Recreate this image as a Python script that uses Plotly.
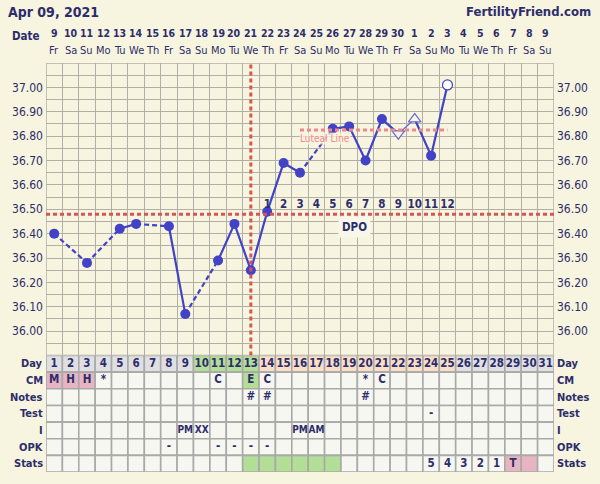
import plotly.graph_objects as go

# ---------------- data ----------------
days = list(range(1, 32))
date_labels = ['9', '10', '11', '12', '13', '14', '15', '16', '17', '18', '19', '20', '21', '22',
               '23', '24', '25', '26', '27', '28', '29', '30', '1', '2', '3', '4', '5', '6', '7', '8', '9']
weekday_labels = ['Fr', 'Sa', 'Su', 'Mo', 'Tu', 'We', 'Th', 'Fr', 'Sa', 'Su', 'Mo', 'Tu', 'We', 'Th',
                  'Fr', 'Sa', 'Su', 'Mo', 'Tu', 'We', 'Th', 'Fr', 'Sa', 'Su', 'Mo', 'Tu', 'We', 'Th',
                  'Fr', 'Sa', 'Su']
temp_days = list(range(1, 26))
temps = [36.40, None, 36.28, None, 36.42, 36.44, None, 36.43, 36.07, None, 36.29, 36.44, 36.25,
         36.49, 36.69, 36.65, None, 36.83, 36.84, 36.70, 36.87, 36.81, 36.87, 36.72, 37.01]
temp_kind = ['f', None, 'f', None, 'f', 'f', None, 'f', 'f', None, 'f', 'f', 'f',
             'f', 'f', 'f', None, 'f', 'f', 'f', 'f', 'tdown', 'tup', 'f', 'open']
dpo_days = list(range(14, 26))
dpo_labels = [str(i) for i in range(1, 13)]
coverline = 36.48
ovulation_day = 13
luteal_value = 36.825
luteal_start, luteal_end = 16, 25
temp_ticks = [36.0, 36.1, 36.2, 36.3, 36.4, 36.5, 36.6, 36.7, 36.8, 36.9, 37.0]

row_names = ['Day', 'CM', 'Notes', 'Test', 'I', 'OPK', 'Stats']
cm_text = ['M', 'H', 'H', '*', '', '', '', '', '', '', 'C', '', 'E', 'C', '', '', '', '', '', '*', 'C',
           '', '', '', '', '', '', '', '', '', '']
notes_text = [''] * 12 + ['#', '#'] + [''] * 5 + ['#'] + [''] * 11
test_text = [''] * 23 + ['-'] + [''] * 7
i_text = [''] * 8 + ['PM', 'XX'] + [''] * 5 + ['PM', 'AM'] + [''] * 14
opk_text = [''] * 7 + ['-', '', '', '-', '-', '-', '-'] + [''] * 17
stats_text = [''] * 23 + ['5', '4', '3', '2', '1', 'T', '', '']
day_text = [str(d) for d in days]

# cell colour codes per row: g=grey, G=green, p=peach, k=pink, c=plain
day_color = ['g'] * 9 + ['G'] * 4 + ['p'] * 12 + ['g'] * 6
cm_color = ['k'] * 3 + ['c'] * 9 + ['G'] + ['c'] * 18
plain = ['c'] * 31
stats_color = ['c'] * 12 + ['G'] * 6 + ['c'] * 10 + ['k', 'k', 'c']

row_texts = [day_text, cm_text, notes_text, test_text, i_text, opk_text, stats_text]
row_colors = [day_color, cm_color, plain, plain, plain, plain, stats_color]

# ---------------- style ----------------
BG = '#F7F4DF'
NAVY = '#2D2D6B'
BLUE = '#4242C6'
RED = '#D45656'
LUTEAL = '#F08A8A'
GRID = '#B2B0A6'
BORDER = '#A9A9A9'
CELLC = {'g': '#E0E0E3', 'G': '#B3DE95', 'p': '#FADFC7', 'k': '#E7B5C2', 'c': '#F7F7F1'}
FONT = 'DejaVu Sans Condensed, DejaVu Sans, sans-serif'
YMIN, YMAX = 35.90, 37.10
PLOT_TOP, PLOT_BOTTOM = 63, 472


def py(pixel):
    """paper y for a pixel row of the page"""
    return (PLOT_BOTTOM - pixel) / (PLOT_BOTTOM - PLOT_TOP)


fig = go.Figure()

# temperature line segments
pts = [(d, t, k) for d, t, k in zip(temp_days, temps, temp_kind) if t is not None]
for (d0, t0, k0), (d1, t1, k1) in zip(pts[:-1], pts[1:]):
    dashed = (d1 - d0) > 1
    thin = k0.startswith('t') and k1.startswith('t')
    fig.add_trace(go.Scatter(
        x=[d0, d1], y=[t0, t1], mode='lines', xaxis='x', yaxis='y',
        line=dict(color=BLUE if not thin else '#6A6AD6', width=1.2 if thin else 2.2,
                  dash='5px,3px' if dashed else 'solid'),
        hoverinfo='skip', showlegend=False))

fx = [d for d, t, k in pts if k == 'f']
fy = [t for d, t, k in pts if k == 'f']
fig.add_trace(go.Scatter(x=fx, y=fy, mode='markers', marker=dict(color=BLUE, size=10, symbol='circle'),
                         showlegend=False, hoverinfo='skip'))
for kind, sym in [('tdown', 'triangle-down'), ('tup', 'triangle-up')]:
    tx = [d for d, t, k in pts if k == kind]
    ty = [t for d, t, k in pts if k == kind]
    fig.add_trace(go.Scatter(x=tx, y=ty, mode='markers',
                             marker=dict(color=BG, size=11, symbol=sym, line=dict(color='#6A6AD6', width=1.2)),
                             showlegend=False, hoverinfo='skip'))
ox = [d for d, t, k in pts if k == 'open']
oy = [t for d, t, k in pts if k == 'open']
fig.add_trace(go.Scatter(x=ox, y=oy, mode='markers',
                         marker=dict(color='#FFFFFF', size=10, symbol='circle', line=dict(color=BLUE, width=1.2)),
                         showlegend=False, hoverinfo='skip'))

# DPO numbers
fig.add_trace(go.Scatter(x=dpo_days, y=[36.518] * len(dpo_days), mode='text',
                         text=['<b>%s</b>' % s for s in dpo_labels],
                         textfont=dict(family=FONT, size=11.5, color=NAVY),
                         showlegend=False, hoverinfo='skip'))

# invisible trace for right axis
fig.add_trace(go.Scatter(x=[1], y=[36.5], xaxis='x', yaxis='y3', mode='markers',
                         marker=dict(opacity=0), showlegend=False, hoverinfo='skip'))

# table text
tx, ty, tt, ts = [], [], [], []
for r, texts in enumerate(row_texts):
    yc = 6.5 - r
    for d, s in zip(days, texts):
        if s:
            tx.append(d)
            ty.append(yc)
            tt.append('<b>%s</b>' % s)
            ts.append(10 if (len(s) > 1 and r > 0) else 11.5)
fig.add_trace(go.Scatter(x=tx, y=ty, xaxis='x2', yaxis='y2', mode='text', text=tt,
                         textfont=dict(family=FONT, size=ts, color=NAVY),
                         showlegend=False, hoverinfo='skip'))

shapes = []
# table cells
for r, colors in enumerate(row_colors):
    y0 = 6 - r
    for d, c in zip(days, colors):
        shapes.append(dict(type='rect', xref='x2', yref='y2', x0=d - 0.5, x1=d + 0.5, y0=y0, y1=y0 + 1,
                           fillcolor=CELLC[c], line=dict(color=BORDER, width=1.6), layer='below'))
# chart border
shapes.append(dict(type='rect', xref='x', yref='y', x0=0.5, x1=31.5, y0=YMIN, y1=YMAX,
                   line=dict(color=GRID, width=1.5), layer='below'))
# coverline, ovulation, luteal line
shapes.append(dict(type='line', xref='x', yref='y', x0=0.5, x1=31.5, y0=coverline, y1=coverline,
                   line=dict(color=RED, width=3, dash='4px,3px')))
shapes.append(dict(type='line', xref='x', yref='y', x0=ovulation_day, x1=ovulation_day, y0=YMIN, y1=YMAX,
                   line=dict(color=RED, width=3, dash='4px,3px')))
shapes.append(dict(type='line', xref='x', yref='y', x0=luteal_start, x1=luteal_end, y0=luteal_value,
                   y1=luteal_value, line=dict(color=LUTEAL, width=3, dash='4px,3px')))

annotations = []
annotations.append(dict(xref='paper', yref='paper', x=-0.078, y=py(12), xanchor='left', yanchor='middle',
                        text='<b>Apr 09, 2021</b>', showarrow=False,
                        font=dict(family=FONT, size=14, color=NAVY)))
annotations.append(dict(xref='paper', yref='paper', x=1.076, y=py(12), xanchor='right', yanchor='middle',
                        text='<b>FertilityFriend.com</b>', showarrow=False,
                        font=dict(family=FONT, size=13, color=NAVY)))
annotations.append(dict(xref='paper', yref='paper', x=0, y=py(36), xanchor='right', yanchor='middle', xshift=-4,
                        text='<b>Date</b>', showarrow=False, font=dict(family=FONT, size=11.5, color=NAVY)))
# top date labels
for d, dl, wl in zip(days, date_labels, weekday_labels):
    annotations.append(dict(xref='x', yref='paper', x=d, y=py(33), xanchor='center', yanchor='middle',
                            text='<b>%s</b>' % dl, showarrow=False,
                            font=dict(family=FONT, size=10.5, color=NAVY)))
    annotations.append(dict(xref='x', yref='paper', x=d, y=py(50), xanchor='center', yanchor='middle',
                            text=wl, showarrow=False,
                            font=dict(family=FONT, size=11, color=NAVY)))
annotations.append(dict(xref='x', yref='y', x=19.3, y=36.427, xanchor='center', yanchor='middle',
                        text='<b>DPO</b>', showarrow=False, bgcolor='#F8F7EA', borderpad=3,
                        font=dict(family=FONT, size=11.5, color=NAVY)))
annotations.append(dict(xref='x', yref='y', x=15.95, y=36.79, xanchor='left', yanchor='middle',
                        text='Luteal Line', showarrow=False, bgcolor='rgba(248,246,226,0.75)', borderpad=0,
                        font=dict(family=FONT, size=10, color=LUTEAL)))
for r, name in enumerate(row_names):
    yc = 6.5 - r
    annotations.append(dict(xref='paper', yref='y2', x=0, y=yc, xanchor='right', yanchor='middle', xshift=-1,
                            text='<b>%s</b>' % name, showarrow=False,
                            font=dict(family=FONT, size=11, color=NAVY)))
    annotations.append(dict(xref='paper', yref='y2', x=1, y=yc, xanchor='left', yanchor='middle', xshift=1,
                            text='<b>%s</b>' % name, showarrow=False,
                            font=dict(family=FONT, size=11, color=NAVY)))

grid_x = [d + 0.5 for d in range(0, 32)]
grid_y = [round(YMIN + 0.05 * k, 2) for k in range(0, 25)]
tick_text = ['%.2f' % v if any(abs(v - t) < 1e-6 for t in temp_ticks) else '' for v in grid_y]

yax_common = dict(range=[YMIN, YMAX], tickmode='array', tickvals=grid_y, ticktext=tick_text,
                  tickfont=dict(family=FONT, size=12, color=NAVY), ticks='', zeroline=False,
                  fixedrange=True)

fig.update_layout(
    width=600, height=484,
    margin=dict(l=44, r=43, t=63, b=12),
    paper_bgcolor=BG, plot_bgcolor=BG,
    showlegend=False,
    xaxis=dict(domain=[0, 1], anchor='y', range=[0.5, 31.5], tickmode='array', tickvals=grid_x,
               showticklabels=False, showgrid=True, gridcolor=GRID, gridwidth=1.3, zeroline=False, ticks='',
               fixedrange=True),
    xaxis2=dict(domain=[0, 1], anchor='y2', range=[0.5, 31.5], showticklabels=False, showgrid=False,
                zeroline=False, ticks='', fixedrange=True),
    yaxis=dict(domain=[0.2848, 1], anchor='x', showgrid=True, gridcolor=GRID, gridwidth=1.3,
               ticklabelstandoff=2, **yax_common),
    yaxis3=dict(overlaying='y', side='right', anchor='x', showgrid=False, ticklabelstandoff=2, **yax_common),
    yaxis2=dict(domain=[0, 0.2848], anchor='x2', range=[0, 7], showticklabels=False, showgrid=False,
                zeroline=False, ticks='', fixedrange=True),
    shapes=shapes,
    annotations=annotations,
)

fig.write_html('out.html', config={'displayModeBar': False},
               post_script="document.body.style.margin='0';document.body.style.overflow='hidden';")
